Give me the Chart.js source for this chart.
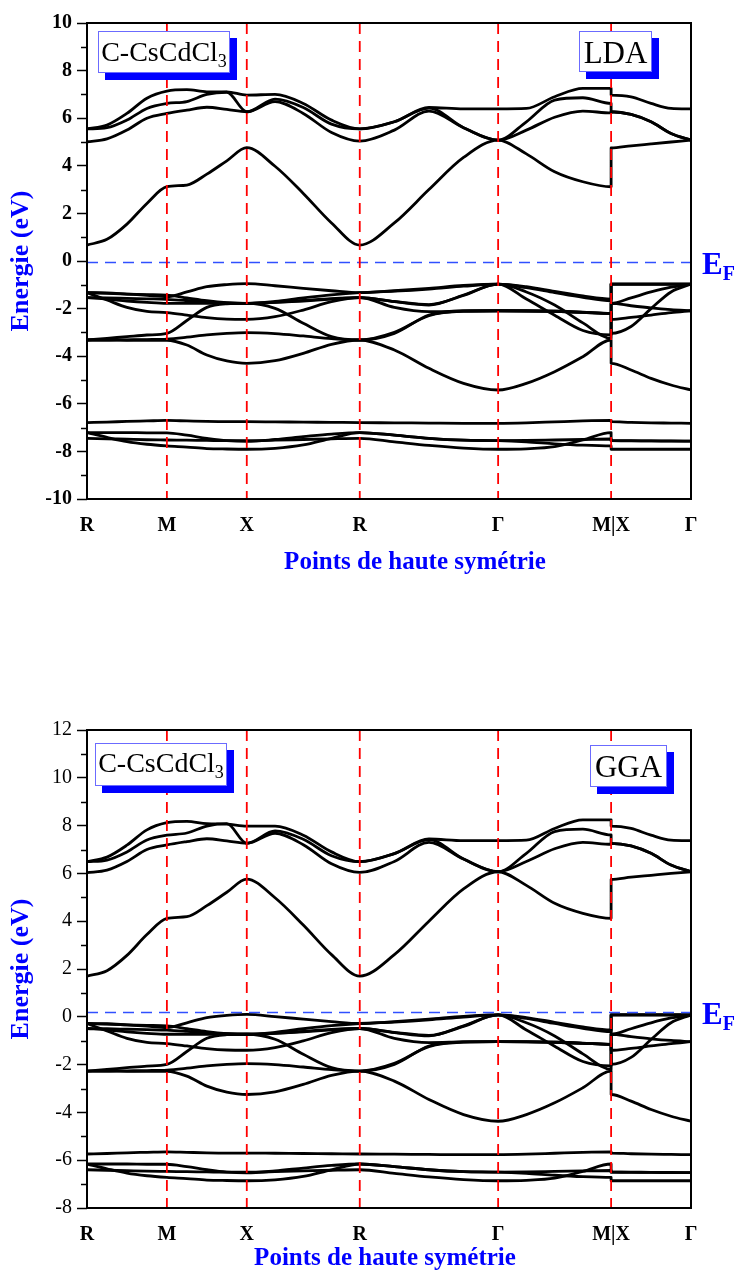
<!DOCTYPE html>
<html lang="fr">
<head>
<meta charset="utf-8">
<title>C-CsCdCl3 - structure de bandes LDA / GGA</title>
<script src="https://cdn.jsdelivr.net/npm/chart.js@4.4.1/dist/chart.umd.min.js"></script>
<style>
  html, body { margin: 0; padding: 0; background: #fff; }
  #wrap { position: relative; width: 739px; height: 1273px; overflow: hidden; }
  #chart-lda { position: absolute; left: 0; top: 0; }
  #chart-gga { position: absolute; left: 0; top: 660px; }
</style>
</head>
<body>
<div id="wrap">
  <canvas id="chart-lda" width="739" height="600"></canvas>
  <canvas id="chart-gga" width="739" height="613"></canvas>
</div>
<script>
// ------------- Chemin k (R-M-X-R-Γ-M|X-Γ) -------------
const kPath = [0, 0.125, 0.25, 0.375, 0.5, 0.625, 0.75, 0.875, 1.0, 1.1768, 1.3536, 1.5303,
  1.7071, 1.9236, 2.1401, 2.3566, 2.5731, 2.7499, 2.9267, 3.1034, 3.2802, 3.2802, 3.4052, 3.5302, 3.6552, 3.7802];
const kTicks  = [0, 0.5, 1.0, 1.7071, 2.5731, 3.2802, 3.7802];
const kLabels = ['R', 'M', 'X', 'R', 'Γ', 'M|X', 'Γ'];

// ------------- LDA -------------
const ldaYTicks = [-10, -8, -6, -4, -2, 0, 2, 4, 6, 8, 10];
const ldaEf = -0.06;
const ldaC1 = [0.67, 0.91, 1.55, 2.42, 3.12, 3.19, 3.65, 4.21, 4.76, 3.98, 2.84, 1.6, 0.67, 1.6, 3.0, 4.35, 5.08, 4.5, 3.75, 3.33, 3.12, 4.75, 4.84, 4.92, 5.0, 5.08];
const ldaC2 = [5.01, 5.13, 5.5, 6.0, 6.2, 6.34, 6.46, 6.37, 6.27, 6.7, 6.2, 5.4, 5.04, 5.5, 6.3, 5.6, 5.08, 5.5, 6.04, 6.3, 6.22, 6.27, 6.16, 5.85, 5.36, 5.08];
const ldaC3 = [5.55, 5.6, 5.92, 6.41, 6.62, 6.7, 7.0, 7.09, 6.27, 6.8, 6.45, 5.75, 5.55, 5.85, 6.42, 5.6, 5.08, 5.85, 6.76, 6.86, 6.62, 6.27, 6.16, 5.85, 5.36, 5.08];
const ldaC4 = [5.55, 5.71, 6.2, 6.84, 7.14, 7.2, 7.11, 7.11, 6.97, 7.0, 6.62, 5.92, 5.55, 5.85, 6.45, 6.39, 6.39, 6.41, 6.9, 7.25, 7.25, 6.97, 6.9, 6.62, 6.41, 6.39];
const ldaV1 = [-1.33, -1.34, -1.39, -1.44, -1.5, -1.3, -1.08, -0.99, -0.95, -1.04, -1.15, -1.25, -1.33, -1.25, -1.15, -1.03, -0.97, -1.12, -1.33, -1.53, -1.67, -0.97, -0.97, -0.97, -0.97, -0.97];
const ldaV2 = [-1.33, -1.36, -1.39, -1.41, -1.43, -1.55, -1.67, -1.75, -1.78, -1.7, -1.55, -1.42, -1.33, -1.27, -1.18, -1.06, -0.97, -1.08, -1.28, -1.47, -1.6, -0.97, -0.97, -0.97, -0.97, -0.97];
const ldaV3 = [-1.54, -1.55, -1.57, -1.59, -1.61, -1.66, -1.72, -1.76, -1.78, -1.74, -1.68, -1.6, -1.54, -1.71, -1.85, -1.43, -0.97, -1.6, -2.28, -2.92, -3.1, -1.78, -1.55, -1.3, -1.1, -0.97];
const ldaV4 = [-1.33, -1.64, -1.95, -2.12, -2.17, -2.27, -2.38, -2.44, -2.45, -2.34, -2.06, -1.71, -1.54, -1.95, -2.13, -2.1, -2.09, -2.1, -2.12, -2.16, -2.2, -2.45, -2.37, -2.27, -2.17, -2.09];
const ldaV5 = [-3.32, -3.25, -3.18, -3.11, -3.04, -2.5, -1.95, -1.8, -1.78, -1.99, -2.62, -3.18, -3.32, -3.04, -2.27, -2.1, -2.09, -2.1, -2.12, -2.16, -2.2, -1.78, -1.88, -1.97, -2.04, -2.09];
const ldaV6 = [-3.32, -3.32, -3.31, -3.3, -3.28, -3.2, -3.1, -3.04, -3.01, -3.05, -3.15, -3.26, -3.32, -3.0, -2.3, -2.11, -2.09, -2.09, -2.1, -2.15, -2.2, -3.04, -2.75, -2.0, -1.3, -0.97];
const ldaV7 = [-3.32, -3.32, -3.33, -3.33, -3.33, -3.53, -3.95, -4.2, -4.3, -4.19, -3.88, -3.5, -3.32, -3.74, -4.51, -5.14, -5.42, -5.14, -4.65, -4.02, -3.32, -4.3, -4.58, -4.93, -5.21, -5.42];
const ldaV8 = [-1.54, -1.6, -1.68, -1.74, -1.78, -1.78, -1.78, -1.78, -1.78, -1.74, -1.66, -1.58, -1.54, -1.7, -1.83, -1.45, -0.97, -1.3, -1.85, -2.6, -3.25, -0.97, -0.97, -0.97, -0.97, -0.97];
const ldaD1 = [-6.79, -6.77, -6.74, -6.72, -6.7, -6.72, -6.74, -6.75, -6.75, -6.76, -6.77, -6.78, -6.79, -6.8, -6.81, -6.82, -6.82, -6.8, -6.76, -6.72, -6.7, -6.75, -6.78, -6.8, -6.81, -6.82];
const ldaD2 = [-7.21, -7.21, -7.21, -7.22, -7.22, -7.32, -7.45, -7.55, -7.58, -7.5, -7.38, -7.27, -7.21, -7.32, -7.45, -7.53, -7.55, -7.54, -7.52, -7.5, -7.48, -7.55, -7.56, -7.56, -7.57, -7.57];
const ldaD3 = [-7.45, -7.47, -7.49, -7.51, -7.52, -7.53, -7.54, -7.55, -7.55, -7.53, -7.5, -7.47, -7.45, -7.6, -7.75, -7.86, -7.91, -7.89, -7.8, -7.52, -7.21, -7.55, -7.55, -7.56, -7.56, -7.57];
const ldaD4 = [-7.21, -7.41, -7.59, -7.7, -7.77, -7.82, -7.88, -7.9, -7.91, -7.87, -7.73, -7.45, -7.21, -7.32, -7.45, -7.53, -7.55, -7.6, -7.68, -7.74, -7.77, -7.91, -7.91, -7.91, -7.91, -7.91];

// ------------- GGA -------------
const ggaYTicks = [-8, -6, -4, -2, 0, 2, 4, 6, 8, 10, 12];
const ggaEf = 0.18;
const ggaC1 = [1.7, 1.93, 2.57, 3.44, 4.12, 4.19, 4.65, 5.21, 5.76, 4.98, 3.84, 2.6, 1.7, 2.6, 4.0, 5.35, 6.07, 5.5, 4.75, 4.33, 4.12, 5.75, 5.84, 5.92, 6.0, 6.07];
const ggaC2 = [6.03, 6.14, 6.5, 7.0, 7.19, 7.33, 7.45, 7.36, 7.26, 7.68, 7.2, 6.4, 6.04, 6.5, 7.3, 6.6, 6.07, 6.5, 7.03, 7.3, 7.22, 7.26, 7.15, 6.84, 6.35, 6.07];
const ggaC3 = [6.49, 6.56, 6.9, 7.4, 7.6, 7.69, 7.98, 8.08, 7.26, 7.78, 7.43, 6.74, 6.49, 6.83, 7.41, 6.6, 6.07, 6.84, 7.75, 7.85, 7.61, 7.26, 7.15, 6.84, 6.35, 6.07];
const ggaC4 = [6.49, 6.68, 7.18, 7.82, 8.12, 8.18, 8.08, 8.06, 7.98, 7.98, 7.6, 6.9, 6.49, 6.83, 7.44, 7.37, 7.37, 7.39, 7.88, 8.24, 8.24, 7.98, 7.88, 7.6, 7.39, 7.37];
const ggaV1 = [-0.28, -0.29, -0.34, -0.39, -0.45, -0.25, -0.03, 0.06, 0.1, 0.01, -0.1, -0.2, -0.28, -0.2, -0.1, 0.02, 0.08, -0.07, -0.28, -0.48, -0.62, 0.08, 0.08, 0.08, 0.08, 0.08];
const ggaV2 = [-0.28, -0.31, -0.34, -0.36, -0.38, -0.5, -0.62, -0.7, -0.73, -0.65, -0.5, -0.37, -0.28, -0.22, -0.13, -0.01, 0.08, -0.03, -0.23, -0.42, -0.55, 0.08, 0.08, 0.08, 0.08, 0.08];
const ggaV3 = [-0.49, -0.5, -0.52, -0.54, -0.56, -0.61, -0.67, -0.71, -0.73, -0.69, -0.63, -0.55, -0.49, -0.66, -0.8, -0.38, 0.08, -0.55, -1.23, -1.87, -2.05, -0.73, -0.5, -0.25, -0.05, 0.08];
const ggaV4 = [-0.28, -0.59, -0.9, -1.07, -1.12, -1.22, -1.33, -1.39, -1.4, -1.29, -1.01, -0.66, -0.49, -0.9, -1.08, -1.05, -1.04, -1.05, -1.07, -1.11, -1.15, -1.4, -1.32, -1.22, -1.12, -1.04];
const ggaV5 = [-2.27, -2.2, -2.13, -2.06, -1.99, -1.45, -0.9, -0.75, -0.73, -0.94, -1.57, -2.13, -2.27, -1.99, -1.22, -1.05, -1.04, -1.05, -1.07, -1.11, -1.15, -0.73, -0.83, -0.92, -0.99, -1.04];
const ggaV6 = [-2.27, -2.27, -2.26, -2.25, -2.23, -2.15, -2.05, -1.99, -1.96, -2.0, -2.1, -2.21, -2.27, -1.95, -1.25, -1.06, -1.04, -1.04, -1.05, -1.1, -1.15, -1.99, -1.7, -0.95, -0.25, 0.08];
const ggaV7 = [-2.27, -2.27, -2.28, -2.28, -2.28, -2.48, -2.9, -3.15, -3.25, -3.14, -2.83, -2.45, -2.27, -2.69, -3.46, -4.09, -4.37, -4.09, -3.6, -2.97, -2.27, -3.25, -3.53, -3.88, -4.16, -4.37];
const ggaV8 = [-0.49, -0.55, -0.63, -0.69, -0.73, -0.73, -0.73, -0.73, -0.73, -0.69, -0.61, -0.53, -0.49, -0.65, -0.78, -0.4, 0.08, -0.25, -0.8, -1.55, -2.2, 0.08, 0.08, 0.08, 0.08, 0.08];
const ggaD1 = [-5.74, -5.72, -5.69, -5.67, -5.65, -5.67, -5.69, -5.7, -5.7, -5.71, -5.72, -5.73, -5.74, -5.75, -5.76, -5.77, -5.77, -5.75, -5.71, -5.67, -5.65, -5.7, -5.73, -5.75, -5.76, -5.77];
const ggaD2 = [-6.16, -6.16, -6.16, -6.17, -6.17, -6.27, -6.4, -6.5, -6.53, -6.45, -6.33, -6.22, -6.16, -6.27, -6.4, -6.48, -6.5, -6.49, -6.47, -6.45, -6.43, -6.5, -6.51, -6.51, -6.52, -6.52];
const ggaD3 = [-6.4, -6.42, -6.44, -6.46, -6.47, -6.48, -6.49, -6.5, -6.5, -6.48, -6.45, -6.42, -6.4, -6.55, -6.7, -6.81, -6.86, -6.84, -6.75, -6.47, -6.16, -6.5, -6.5, -6.51, -6.51, -6.52];
const ggaD4 = [-6.16, -6.36, -6.54, -6.65, -6.72, -6.77, -6.83, -6.85, -6.86, -6.82, -6.68, -6.4, -6.16, -6.27, -6.4, -6.48, -6.5, -6.55, -6.63, -6.69, -6.72, -6.86, -6.86, -6.86, -6.86, -6.86];

(() => {
  const SERIF = '"Liberation Serif", "Times New Roman", serif';
  Chart.defaults.font.family = SERIF;

  // ------------- Helpers -------------
  function bandSets(bands) {
    return bands.map(b => ({
      data: b.map((e, i) => ({ x: kPath[i], y: e })),
      borderColor: '#000', borderWidth: 2.8, pointRadius: 0,
      borderJoinStyle: 'round', borderCapStyle: 'round',
      cubicInterpolationMode: 'monotone', fill: false, order: 2
    }));
  }
  function symLines(yTicks) {
    const top = yTicks[yTicks.length - 1], bot = yTicks[0];
    return kTicks.slice(1, -1).map(k => ({
      data: [{ x: k, y: top }, { x: k, y: bot }],
      borderColor: '#ff0000', borderWidth: 1.8, borderDash: [11, 7],
      pointRadius: 0, fill: false, order: 0
    }));
  }
  function efLine(ef) {
    return {
      data: [{ x: kTicks[0], y: ef }, { x: kTicks[kTicks.length - 1], y: ef }],
      borderColor: '#3050ff', borderWidth: 1.5, borderDash: [11, 7],
      pointRadius: 0, fill: false, order: 1
    };
  }

  function drawTag(ctx, a, t) {
    const x = a.left + t.dx, y = a.top + t.dy;
    ctx.fillStyle = '#0000ff';
    ctx.fillRect(x + 7, y + 7, t.w, t.h);
    ctx.fillStyle = '#fff';
    ctx.fillRect(x, y, t.w, t.h);
    ctx.strokeStyle = '#6b6bff'; ctx.lineWidth = 1;
    ctx.strokeRect(x + 0.5, y + 0.5, t.w - 1, t.h - 1);
    ctx.fillStyle = '#000';
    ctx.textAlign = 'left'; ctx.textBaseline = 'alphabetic';
    ctx.font = `${t.size}px ${SERIF}`;
    const mw = ctx.measureText(t.text).width;
    let sw = 0;
    if (t.sub) { ctx.font = `${t.subSize}px ${SERIF}`; sw = ctx.measureText(t.sub).width; }
    const tx = x + (t.w - mw - sw) / 2;
    ctx.font = `${t.size}px ${SERIF}`;
    ctx.fillText(t.text, tx, y + t.base);
    if (t.sub) {
      ctx.font = `${t.subSize}px ${SERIF}`;
      ctx.fillText(t.sub, tx + mw, y + t.base + 6);
    }
  }

  // cadre, petites graduations, E_F, étiquettes, titre de l'axe x
  const decor = {
    id: 'decor',
    afterDraw(chart, args, o) {
      const { ctx, chartArea: a, scales: { y } } = chart;
      ctx.save();
      ctx.strokeStyle = '#000'; ctx.lineWidth = 1.5;
      for (let v = Math.ceil(y.min); v <= y.max; v++) {
        if (v % 2 === 0) continue;
        const py = Math.round(y.getPixelForValue(v)) + 0.5;
        ctx.beginPath(); ctx.moveTo(a.left - 6, py); ctx.lineTo(a.left, py); ctx.stroke();
      }
      ctx.lineWidth = 2;
      ctx.strokeRect(a.left, a.top, a.right - a.left, a.bottom - a.top);

      // E_F
      const ye = y.getPixelForValue(o.ef);
      ctx.fillStyle = '#0000ff';
      ctx.textAlign = 'left'; ctx.textBaseline = 'alphabetic';
      ctx.font = `bold 31px ${SERIF}`;
      ctx.fillText('E', a.right + 11, ye + 12);
      const ew = ctx.measureText('E').width;
      ctx.font = `bold 20px ${SERIF}`;
      ctx.fillText('F', a.right + 11 + ew, ye + 18);

      o.tags.forEach(t => drawTag(ctx, a, t));

      ctx.fillStyle = '#0000ff';
      ctx.font = `bold 25px ${SERIF}`;
      ctx.textAlign = 'center'; ctx.textBaseline = 'middle';
      ctx.fillText('Points de haute symétrie', (a.left + a.right) / 2 + o.xTitleDx, o.xTitleY);
      ctx.restore();
    }
  };

  function buildChart(id, cfg) {
    const yMin = cfg.yTicks[0], yMax = cfg.yTicks[cfg.yTicks.length - 1];
    return new Chart(document.getElementById(id).getContext('2d'), {
      type: 'line',
      data: { datasets: [...symLines(cfg.yTicks), efLine(cfg.ef), ...bandSets(cfg.bands)] },
      options: {
        responsive: false, animation: false, events: [],
        layout: { padding: { top: cfg.padTop, right: 48, left: 0, bottom: 0 } },
        plugins: {
          legend: { display: false }, tooltip: { enabled: false },
          decor: { ef: cfg.ef, tags: cfg.tags, xTitleDx: cfg.xTitleDx, xTitleY: cfg.xTitleY }
        },
        scales: {
          x: {
            type: 'linear', min: kTicks[0], max: kTicks[kTicks.length - 1],
            afterBuildTicks: s => { s.ticks = kTicks.map(v => ({ value: v })); },
            afterFit: s => { s.height = cfg.xAxisH; },
            ticks: {
              autoSkip: false, maxRotation: 0, padding: 7, color: '#000',
              font: { size: 20, weight: 'bold' },
              callback: (v, i) => kLabels[i]
            },
            grid: { display: false },
            border: { display: false }
          },
          y: {
            type: 'linear', min: yMin, max: yMax,
            afterBuildTicks: s => { s.ticks = cfg.yTicks.map(v => ({ value: v })); },
            afterFit: s => { s.width = 87; },
            ticks: { padding: 5, color: '#000', font: { size: 20, weight: cfg.yBold ? 'bold' : 'normal' } },
            grid: { drawOnChartArea: false, drawTicks: true, tickLength: 10, tickWidth: 1.5, tickColor: '#000' },
            border: { display: false },
            title: {
              display: true, text: 'Energie (eV)', color: '#0000ff',
              font: { size: 26, weight: 'bold' }, padding: { top: 6, bottom: 0 }
            }
          }
        }
      },
      plugins: [decor]
    });
  }

  // ------------- Init -------------
  buildChart('chart-lda', {
    yTicks: ldaYTicks, ef: ldaEf, yBold: true, padTop: 23, xAxisH: 101,
    xTitleDx: 26, xTitleY: 563,
    bands: [ldaC1, ldaC2, ldaC3, ldaC4, ldaV1, ldaV2, ldaV3, ldaV4, ldaV5, ldaV6, ldaV7, ldaV8, ldaD1, ldaD2, ldaD3, ldaD4],
    tags: [
      { dx: 11, dy: 8, w: 132, h: 42, text: 'C-CsCdCl', sub: '3', size: 28, subSize: 18, base: 30 },
      { dx: 492, dy: 8, w: 73, h: 41, text: 'LDA', size: 31, base: 32 }
    ]
  });
  buildChart('chart-gga', {
    yTicks: ggaYTicks, ef: ggaEf, yBold: false, padTop: 70, xAxisH: 65,
    xTitleDx: -4, xTitleY: 599,
    bands: [ggaC1, ggaC2, ggaC3, ggaC4, ggaV1, ggaV2, ggaV3, ggaV4, ggaV5, ggaV6, ggaV7, ggaV8, ggaD1, ggaD2, ggaD3, ggaD4],
    tags: [
      { dx: 8, dy: 13, w: 132, h: 43, text: 'C-CsCdCl', sub: '3', size: 28, subSize: 18, base: 29 },
      { dx: 503, dy: 15, w: 77, h: 42, text: 'GGA', size: 31, base: 32 }
    ]
  });
})();
</script>
</body>
</html>
